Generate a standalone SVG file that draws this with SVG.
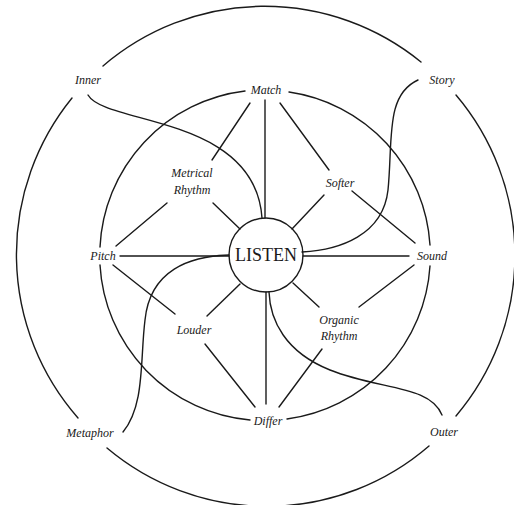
<svg xmlns="http://www.w3.org/2000/svg" width="514" height="505" viewBox="0 0 514 505">
<style>
.l{fill:none;stroke:#1a1a1a;stroke-width:1.4;stroke-linecap:round}
.t{font-family:"Liberation Serif",serif;font-style:italic;font-size:12px;fill:#1a1a1a;text-anchor:middle}
.c{font-family:"Liberation Serif",serif;font-size:18px;fill:#1a1a1a;text-anchor:middle}
</style>
<rect width="514" height="505" fill="#fff"/>
<g id="connectors" class="l">
<path d="M103 66 A248 248 0 0 1 421 62"/>
<path d="M456 95 A248 248 0 0 1 456 416"/>
<path d="M429 446 A248 248 0 0 1 107 448"/>
<path d="M78 418 A248 248 0 0 1 72 98"/>
<path d="M245 91 A165 165 0 0 0 100 247"/>
<path d="M289 92 A165 165 0 0 1 430 245"/>
<path d="M430 266 A165 165 0 0 1 287 419"/>
<path d="M250 420 A165 165 0 0 1 100 265"/>
<path d="M265 100 V218"/>
<path d="M120 256 H229"/>
<path d="M303 256 H409"/>
<path d="M266 292 V404"/>
<path d="M250 103 L212 160"/>
<path d="M213 203 L240 229"/>
<path d="M167 203 L116 246"/>
<path d="M280 103 L329 170"/>
<path d="M324 195 L292 229"/>
<path d="M352 191 L415 243"/>
<path d="M113 265 L175 314"/>
<path d="M207 316 L240 284"/>
<path d="M205 344 L255 407"/>
<path d="M293 283 L319 307"/>
<path d="M414 265 L359 307"/>
<path d="M322 349 L279 407"/>
<path d="M88 95 C105 125 255 115 262 218"/>
<path d="M418 80 C385 95 393 140 388 190 C383 235 340 250 302 252"/>
<path d="M123 432 C145 405 140 360 145 320 C150 270 190 256 229 255"/>
<path d="M442 415 C430 385 380 390 330 370 C285 352 270 320 269 292"/>
</g>
<g id="listen"><circle cx="266" cy="255" r="37" fill="none" stroke="#1a1a1a" stroke-width="1.4"/><text class="c" x="266" y="261">LISTEN</text></g>
<g id="inner"><text class="t" x="88" y="84">Inner</text></g>
<g id="story"><text class="t" x="442" y="84">Story</text></g>
<g id="metaphor"><text class="t" x="90" y="437">Metaphor</text></g>
<g id="outer"><text class="t" x="444" y="436">Outer</text></g>
<g id="match"><text class="t" x="266" y="94">Match</text></g>
<g id="pitch"><text class="t" x="103" y="260">Pitch</text></g>
<g id="sound"><text class="t" x="432" y="260">Sound</text></g>
<g id="differ"><text class="t" x="268" y="425">Differ</text></g>
<g id="metrical"><text class="t" x="192" y="177">Metrical</text><text class="t" x="192" y="194">Rhythm</text></g>
<g id="softer"><text class="t" x="340" y="187">Softer</text></g>
<g id="louder"><text class="t" x="194" y="334">Louder</text></g>
<g id="organic"><text class="t" x="339" y="324">Organic</text><text class="t" x="339" y="340">Rhythm</text></g>
</svg>
